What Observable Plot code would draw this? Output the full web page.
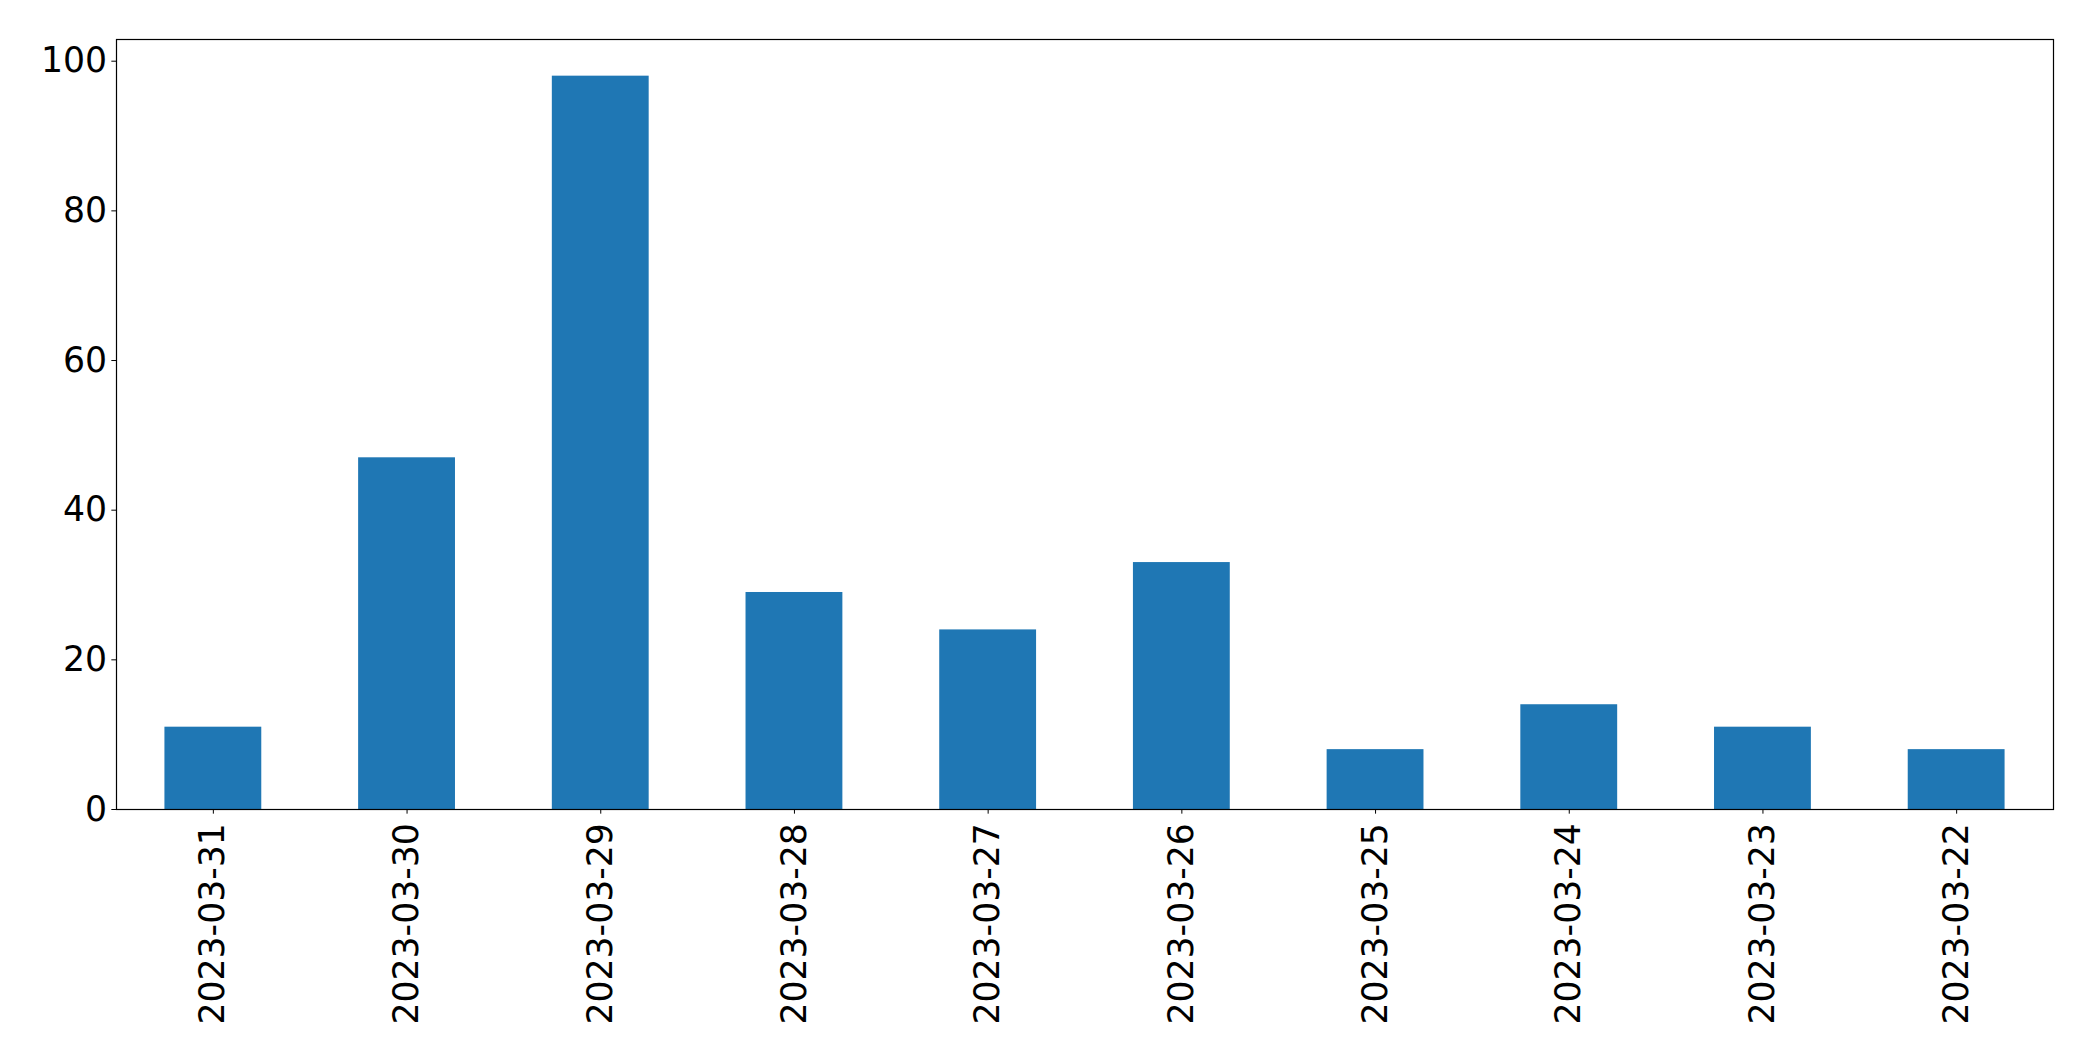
<!DOCTYPE html>
<html>
<head>
<meta charset="utf-8">
<script src="https://cdn.jsdelivr.net/npm/d3@7"></script>
<script src="https://cdn.jsdelivr.net/npm/@observablehq/plot@0.6"></script>
<style>
  html, body { margin: 0; padding: 0; background: white; }
  #chart svg { display: block; }
</style>
</head>
<body>
<div id="chart"></div>
<script>
const dates = ["2023-03-31", "2023-03-30", "2023-03-29", "2023-03-28", "2023-03-27",
               "2023-03-26", "2023-03-25", "2023-03-24", "2023-03-23", "2023-03-22"];
const counts = [11, 47, 98, 29, 24, 33, 8, 14, 11, 8];
const yTicks = [0, 20, 40, 60, 80, 100];

const data = dates.map((d, i) => ({date: d, count: counts[i]}));

const chart = Plot.plot({
  width: 2093,
  height: 1061,
  marginLeft: 116,
  marginRight: 40,
  marginTop: 39,
  marginBottom: 252,
  style: {fontFamily: "DejaVu Sans", fontSize: "34.67px", color: "black", background: "white"},
  x: {domain: dates, paddingInner: 0.5, paddingOuter: 0.25, round: false, label: null, tickRotate: -90, tickSize: 4.67, tickPadding: 9},
  y: {domain: [0, 102.9], ticks: yTicks, label: null, tickSize: 4.67, tickPadding: 4.67},
  marks: [
    Plot.barY(data, {x: "date", y: "count", fill: "#1f77b4"}),
    Plot.frame({stroke: "black", strokeWidth: 1.2})
  ]
});
document.getElementById("chart").appendChild(chart);
</script>
</body>
</html>
